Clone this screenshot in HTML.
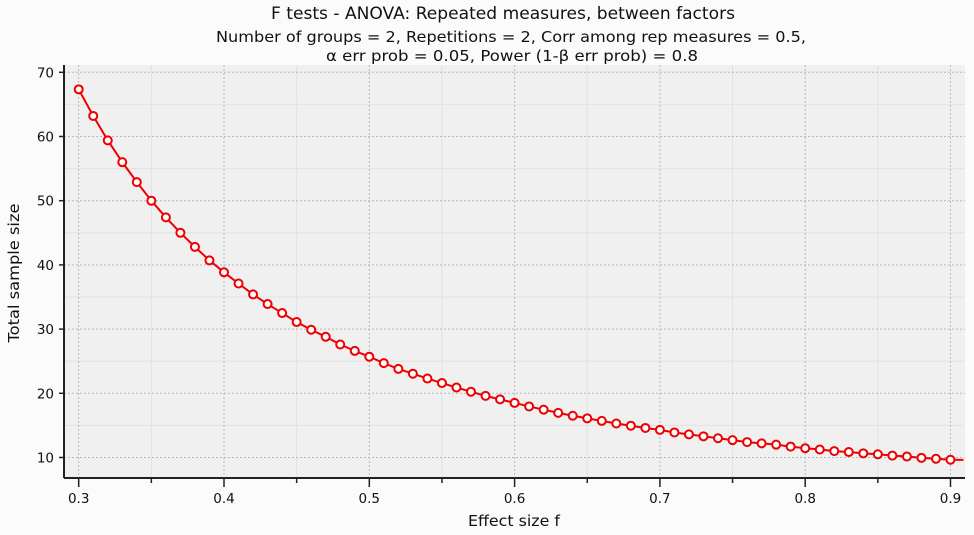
<!DOCTYPE html>
<html><head><meta charset="utf-8"><style>
body{margin:0;background:#fbfbfb;width:974px;height:531px;overflow:hidden;font-family:"DejaVu Sans","Liberation Sans",sans-serif;}
</style></head><body>
<svg id="chart" width="974" height="531" xmlns="http://www.w3.org/2000/svg" font-family="DejaVu Sans, Liberation Sans, sans-serif">
<rect x="0" y="0" width="974" height="531" fill="#fbfbfb"/>
<text x="503" y="19" text-anchor="middle" font-size="17" fill="#111" textLength="464" lengthAdjust="spacingAndGlyphs">F tests - ANOVA: Repeated measures, between factors</text>
<text x="511" y="42" text-anchor="middle" font-size="15" fill="#111" textLength="590" lengthAdjust="spacingAndGlyphs">Number of groups = 2, Repetitions = 2, Corr among rep measures = 0.5,</text>
<text x="512" y="61" text-anchor="middle" font-size="15" fill="#111" textLength="372" lengthAdjust="spacingAndGlyphs">α err prob = 0.05, Power (1-β err prob) = 0.8</text>
<g id="plot"></g>
</svg>
<script>
const effectSizes=[];
for(let i=30;i<=90;i++) effectSizes.push(i/100);
const sampleSizes=[67.35,63.2,59.4,56.0,52.9,50.0,47.4,45.0,42.8,40.7,38.85,37.1,35.4,33.9,32.5,31.1,29.9,28.8,27.6,26.6,25.7,24.7,23.8,23.05,22.3,21.6,20.9,20.25,19.6,19.05,18.5,17.95,17.45,16.95,16.5,16.1,15.7,15.3,14.95,14.6,14.3,13.9,13.6,13.3,13.0,12.7,12.4,12.2,12.0,11.7,11.45,11.25,11.0,10.85,10.65,10.5,10.3,10.15,9.95,9.8,9.65];
const xTicks=[0.3,0.4,0.5,0.6,0.7,0.8,0.9];
const yTicks=[10,20,30,40,50,60,70];
const NS="http://www.w3.org/2000/svg";
const g=document.getElementById('plot');
const L=64,R=965,T=65,B=478;
function sx(v){return 78.7+(v-0.3)*1453;}
function sy(v){return 72.3+(70-v)*6.42;}
function mk(tag,attrs,parent){const e=document.createElementNS(NS,tag);for(const k in attrs)e.setAttribute(k,attrs[k]);(parent||g).appendChild(e);return e;}
let bg=mk('rect',{x:L,y:T,width:R-L,height:B-T,fill:'#f0f0f0'});


for(let v=0.35;v<0.95;v+=0.1){let e=mk('line',{x1:sx(v),x2:sx(v),y1:T,y2:B,stroke:'#e2e2e2','stroke-width':1});}
for(let v=15;v<75;v+=10){let e=mk('line',{x1:L,x2:R,y1:sy(v),y2:sy(v),stroke:'#e2e2e2','stroke-width':1});}
xTicks.forEach(v=>{
 let e=mk('line',{x1:sx(v),x2:sx(v),y1:T,y2:B,stroke:'#b8b8b8','stroke-width':1,'stroke-dasharray':'2,2'});
 
 
 let t=mk('line',{x1:sx(v),x2:sx(v),y1:B,y2:B+9,stroke:'#222','stroke-width':1.5});
 
 
 let l=mk('text',{x:sx(v),y:503,'text-anchor':'middle','font-size':13.5,fill:'#111'});
 l.textContent=v.toFixed(1);
 
 
});
for(let v=0.35;v<0.95;v+=0.1){let t=mk('line',{x1:sx(v),x2:sx(v),y1:B,y2:B+5,stroke:'#222','stroke-width':1.5});}
yTicks.forEach(v=>{
 let e=mk('line',{x1:L,x2:R,y1:sy(v),y2:sy(v),stroke:'#b8b8b8','stroke-width':1,'stroke-dasharray':'2,2'});
 
 
 let t=mk('line',{x1:L-5,x2:L,y1:sy(v),y2:sy(v),stroke:'#222','stroke-width':1.5});
 
 
 let l=mk('text',{x:L-10,y:sy(v)+5,'text-anchor':'end','font-size':13.5,fill:'#111'});
 l.textContent=v;
 
 
});
let ax=mk('line',{x1:L,x2:R,y1:B,y2:B,stroke:'#222','stroke-width':2});


let ay=mk('line',{x1:L,x2:L,y1:T,y2:B,stroke:'#222','stroke-width':2});


let xt=mk('text',{x:514,y:526,'text-anchor':'middle','font-size':15,fill:'#111',textLength:92,lengthAdjust:'spacingAndGlyphs'});
xt.textContent='Effect size f';


let yt=mk('text',{x:19,y:273,'text-anchor':'middle','font-size':15.5,fill:'#111',transform:'rotate(-90 19 273)',textLength:139,lengthAdjust:'spacingAndGlyphs'});
yt.textContent='Total sample size';


let pts=effectSizes.map((x,i)=>sx(x)+','+sy(sampleSizes[i]));
const last=sampleSizes.length-1;
pts.push((sx(effectSizes[last])+13)+','+sy(sampleSizes[last]+(sampleSizes[last]-sampleSizes[last-1])*0.1));
let line=mk('polyline',{points:pts.join(' '),fill:'none',stroke:'#ee0000','stroke-width':2});


effectSizes.forEach((x,i)=>{
 let c=mk('circle',{cx:sx(x),cy:sy(sampleSizes[i]),r:4,fill:'#fff',stroke:'#ee0000','stroke-width':2});
 
 
});
</script>
</body></html>
